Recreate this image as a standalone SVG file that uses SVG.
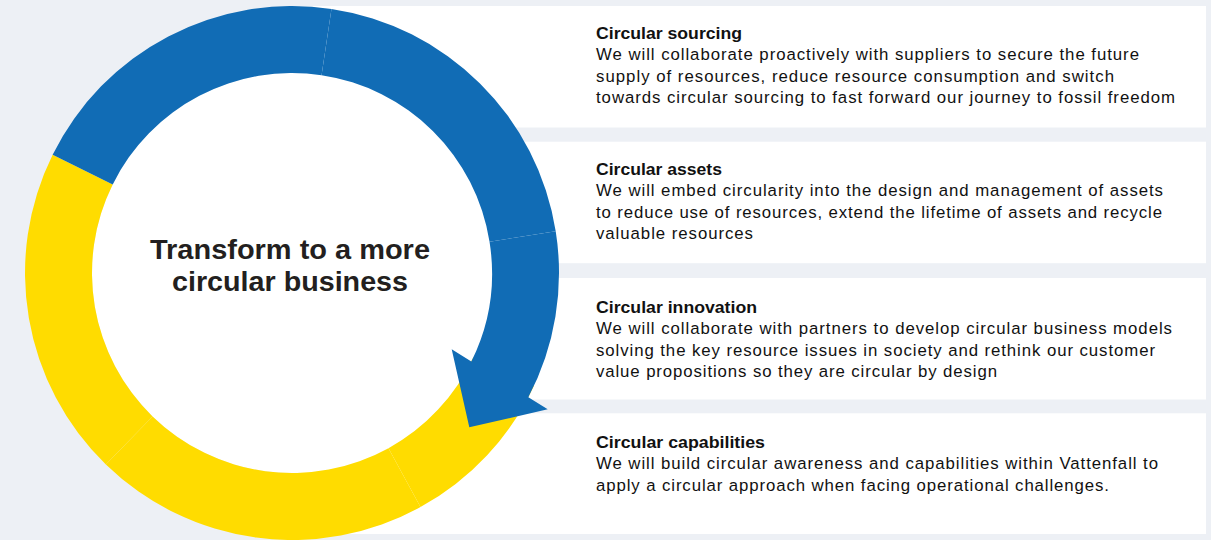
<svg xmlns="http://www.w3.org/2000/svg" width="1211" height="540" viewBox="0 0 1211 540">
  <style>
    .panel { fill: #ffffff; }
    .blue { fill: #116cb5; }
    .yellow { fill: #ffdc00; }
    .hd { font-family: "Liberation Sans", Arial, sans-serif; font-size: 16.5px; font-weight: 700; fill: #111111; }
    .bd { font-family: "Liberation Sans", Arial, sans-serif; font-size: 16.8px; font-weight: 400; fill: #111111; }
    .ct { font-family: "Liberation Sans", Arial, sans-serif; font-size: 27px; font-weight: 700; fill: #231f20; text-anchor: middle; }
  </style>
  <rect x="0" y="0" width="1211" height="540" fill="#edf0f5"/>

  <g id="panel-sourcing">
    <rect class="panel" x="300" y="6" width="906" height="121.5"/>
    <text class="hd" x="596" y="38.5" textLength="146" lengthAdjust="spacingAndGlyphs">Circular sourcing</text>
    <text class="bd" x="596" y="60" textLength="543">We will collaborate proactively with suppliers to secure the future</text>
    <text class="bd" x="596" y="81.5" textLength="518">supply of resources, reduce resource consumption and switch</text>
    <text class="bd" x="596" y="103" textLength="579">towards circular sourcing to fast forward our journey to fossil freedom</text>
  </g>
  <g id="panel-assets">
    <rect class="panel" x="300" y="141.7" width="906" height="121.5"/>
    <text class="hd" x="596" y="174.5" textLength="126" lengthAdjust="spacingAndGlyphs">Circular assets</text>
    <text class="bd" x="596" y="196" textLength="567">We will embed circularity into the design and management of assets</text>
    <text class="bd" x="596" y="217.5" textLength="566">to reduce use of resources, extend the lifetime of assets and recycle</text>
    <text class="bd" x="596" y="239" textLength="157">valuable resources</text>
  </g>
  <g id="panel-innovation">
    <rect class="panel" x="300" y="278" width="906" height="121.5"/>
    <text class="hd" x="596" y="312.5" textLength="161" lengthAdjust="spacingAndGlyphs">Circular innovation</text>
    <text class="bd" x="596" y="334" textLength="576">We will collaborate with partners to develop circular business models</text>
    <text class="bd" x="596" y="355.5" textLength="559">solving the key resource issues in society and rethink our customer</text>
    <text class="bd" x="596" y="377" textLength="401">value propositions so they are circular by design</text>
  </g>
  <g id="panel-capabilities">
    <rect class="panel" x="300" y="413.3" width="906" height="120.7"/>
    <text class="hd" x="596" y="447.5" textLength="169" lengthAdjust="spacingAndGlyphs">Circular capabilities</text>
    <text class="bd" x="596" y="469" textLength="562">We will build circular awareness and capabilities within Vattenfall to</text>
    <text class="bd" x="596" y="490.5" textLength="513">apply a circular approach when facing operational challenges.</text>
  </g>

  <g id="ring">
    <circle cx="292" cy="273" r="200" fill="#ffffff"/>
    <path class="yellow" d="M533.98,385.84 A267,267 0 0 1 420.5,507.1 L388.5,448.2 A200,200 0 0 0 473.26,357.52 Z"/>
    <path class="yellow" d="M420.5,507.1 A267,267 0 0 1 105.86,464.41 L152.57,416.38 A200,200 0 0 0 388.5,448.2 Z"/>
    <path class="yellow" d="M105.86,464.41 A267,267 0 0 1 52.64,154.72 L112.70,184.40 A200,200 0 0 0 152.57,416.38 Z"/>
    <path class="blue" d="M52.64,154.72 A267,267 0 0 1 331.47,8.93 L321.56,75.20 A200,200 0 0 0 112.70,184.40 Z"/>
    <path class="blue" d="M331.47,8.93 A267,267 0 0 1 555.71,231.23 L489.54,241.71 A200,200 0 0 0 321.56,75.20 Z"/>
    <path id="arrow" class="blue" d="M555.71,231.23 A267,267 0 0 1 528.35,397.21 L547.7,409.3 L469.3,427.3 L451.7,349.3 L471.33,361.57 A200,200 0 0 0 489.54,241.71 Z"/>
  </g>

  <g id="center-label">
    <text class="ct" x="290" y="259" textLength="280" lengthAdjust="spacingAndGlyphs">Transform to a more</text>
    <text class="ct" x="290" y="291" textLength="236" lengthAdjust="spacingAndGlyphs">circular business</text>
  </g>
</svg>
